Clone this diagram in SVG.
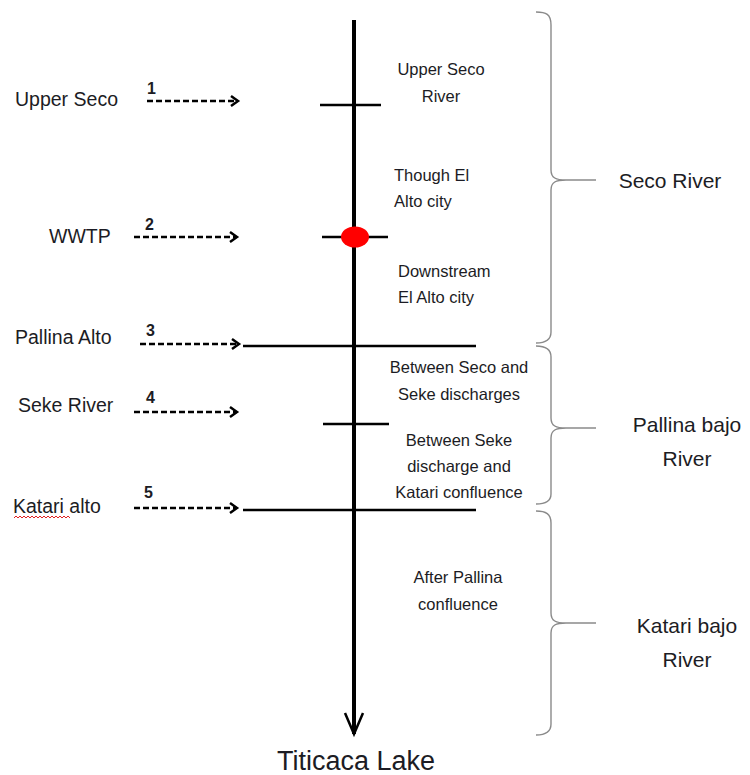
<svg xmlns="http://www.w3.org/2000/svg" width="750" height="775" viewBox="0 0 750 775">
<style>
text{font-family:"Liberation Sans",Arial,sans-serif;fill:#1c1c24}
.lbl{font-size:19.5px}
.num{font-size:16px;font-weight:bold}
.mid{font-size:16.5px}
.big{font-size:21px}
.dash{stroke:#000;stroke-width:2.5;stroke-dasharray:6 3;fill:none}
.head{stroke:#000;stroke-width:2.5;fill:none;stroke-linejoin:miter}
.bar{stroke:#000;stroke-width:2.5;fill:none}
.brace{stroke:#8a8a8a;stroke-width:1.4;fill:none}
</style>
<g id="connectors">
  <line x1="354" y1="20" x2="354" y2="734" stroke="#000" stroke-width="4"/>
  <polyline class="head" points="345,713 354,734 363,713" stroke-width="3.5"/>
  <line class="bar" x1="320" y1="105" x2="381" y2="105"/>
  <line class="bar" x1="322" y1="237" x2="388" y2="237"/>
  <line class="bar" x1="243" y1="346" x2="476" y2="346"/>
  <line class="bar" x1="323" y1="424" x2="389" y2="424"/>
  <line class="bar" x1="243" y1="510" x2="476" y2="510"/>
  <line class="dash" x1="147" y1="101" x2="236" y2="101"/>
  <polyline class="head" points="231,96 238,101 231,106"/>
  <line class="dash" x1="134" y1="237" x2="235" y2="237"/>
  <polyline class="head" points="230,232 237,237 230,242"/>
  <line class="dash" x1="140" y1="344" x2="237" y2="344"/>
  <polyline class="head" points="232,339 239,344 232,349"/>
  <line class="dash" x1="134" y1="412" x2="235" y2="412"/>
  <polyline class="head" points="230,407 237,412 230,417"/>
  <line class="dash" x1="134" y1="508" x2="235" y2="508"/>
  <polyline class="head" points="230,503 237,508 230,513"/>
</g>
<g id="wwtp-point"><ellipse cx="355" cy="237" rx="14" ry="10.5" fill="#ff0000"/></g>
<g id="sources">
  <text class="lbl" x="15" y="106">Upper Seco</text>
  <text class="num" x="147" y="94">1</text>
  <text class="lbl" x="49" y="243">WWTP</text>
  <text class="num" x="145" y="230">2</text>
  <text class="lbl" x="15" y="344">Pallina Alto</text>
  <text class="num" x="146" y="336">3</text>
  <text class="lbl" x="18" y="412">Seke River</text>
  <text class="num" x="146" y="403">4</text>
  <text class="lbl" x="13" y="513">Katari alto</text>
  <text class="num" x="144" y="498">5</text>
  <path d="M14,518 l2,-2 l2,2 l2,-2 l2,2 l2,-2 l2,2 l2,-2 l2,2 l2,-2 l2,2 l2,-2 l2,2 l2,-2 l2,2 l2,-2 l2,2 l2,-2 l2,2 l2,-2 l2,2 l2,-2 l2,2 l2,-2 l2,2 l2,-2 l2,2 l2,-2 l2,2" stroke="#e02020" stroke-width="1" fill="none"/>
</g>
<g id="segments">
  <text class="mid" x="441" y="75" text-anchor="middle">Upper Seco</text>
  <text class="mid" x="441" y="102" text-anchor="middle">River</text>
  <text class="mid" x="394" y="181">Though El</text>
  <text class="mid" x="394" y="207">Alto city</text>
  <text class="mid" x="398" y="277">Downstream</text>
  <text class="mid" x="398" y="303">El Alto city</text>
  <text class="mid" x="459" y="373" text-anchor="middle">Between Seco and</text>
  <text class="mid" x="459" y="400" text-anchor="middle">Seke discharges</text>
  <text class="mid" x="459" y="446" text-anchor="middle">Between Seke</text>
  <text class="mid" x="459" y="472" text-anchor="middle">discharge and</text>
  <text class="mid" x="459" y="498" text-anchor="middle">Katari confluence</text>
  <text class="mid" x="458" y="583" text-anchor="middle">After Pallina</text>
  <text class="mid" x="458" y="610" text-anchor="middle">confluence</text>
</g>
<g id="seco-river">
  <path class="brace" d="M536,12 C546,12 551,14 551,25 L551,170 C551,178 556,180 566,180 L596,180 M566,180 C556,180 551,182 551,190 L551,332 C551,340 546,343 536,343"/>
  <text class="big" x="670" y="188" text-anchor="middle">Seco River</text>
</g>
<g id="pallina-bajo-river">
  <path class="brace" d="M536,346 C546,346 551,349 551,357 L551,418 C551,426 556,428 566,428 L596,428 M566,428 C556,428 551,430 551,438 L551,494 C551,501 546,504 536,504"/>
  <text class="big" x="687" y="432" text-anchor="middle">Pallina bajo</text>
  <text class="big" x="687" y="466" text-anchor="middle">River</text>
</g>
<g id="katari-bajo-river">
  <path class="brace" d="M536,511 C546,511 551,514 551,523 L551,613 C551,621 556,623 566,623 L596,623 M566,623 C556,623 551,625 551,633 L551,724 C551,732 546,735 536,735"/>
  <text class="big" x="687" y="633" text-anchor="middle">Katari bajo</text>
  <text class="big" x="687" y="667" text-anchor="middle">River</text>
</g>
<g id="titicaca-lake">
  <text x="356" y="770" text-anchor="middle" style="font-size:27px">Titicaca Lake</text>
</g>
</svg>
